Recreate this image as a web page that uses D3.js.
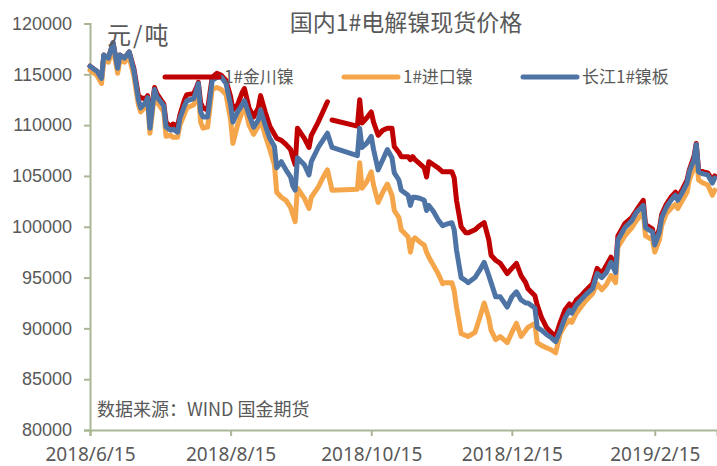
<!DOCTYPE html>
<html>
<head>
<meta charset="utf-8">
<script src="https://cdn.jsdelivr.net/npm/d3@7"></script>
<style>
  body { margin: 0; background: #fff; }
  text { font-family: "Noto Sans CJK SC", "Noto Sans", sans-serif; fill: #595959; }
</style>
</head>
<body>
<div id="chart"></div>
<script>
// dates of the price points (spot quotes, holidays are bridged)
var dates = ["2018-06-15","2018-06-18","2018-06-20","2018-06-21","2018-06-23","2018-06-25","2018-06-27","2018-06-28","2018-06-30","2018-07-02",
  "2018-07-04","2018-07-06","2018-07-07","2018-07-09","2018-07-10","2018-07-11","2018-07-13","2018-07-14","2018-07-17","2018-07-18",
  "2018-07-20","2018-07-21","2018-07-23","2018-07-24","2018-07-26","2018-07-27","2018-07-30","2018-07-31","2018-08-01","2018-08-02",
  "2018-08-03","2018-08-05","2018-08-07","2018-08-09","2018-08-11","2018-08-13","2018-08-15","2018-08-16","2018-08-18","2018-08-20",
  "2018-08-21","2018-08-23","2018-08-25","2018-08-27","2018-08-28","2018-08-30","2018-09-01","2018-09-03","2018-09-04","2018-09-06",
  "2018-09-08","2018-09-10","2018-09-11","2018-09-12","2018-09-13","2018-09-16","2018-09-18","2018-09-19","2018-09-22","2018-09-24",
  "2018-09-26","2018-09-27","2018-09-28","2018-10-09","2018-10-10","2018-10-11","2018-10-13","2018-10-15","2018-10-16","2018-10-18",
  "2018-10-20","2018-10-22","2018-10-24","2018-10-25","2018-10-27","2018-10-28","2018-10-31","2018-11-01","2018-11-02","2018-11-03",
  "2018-11-05","2018-11-07","2018-11-08","2018-11-09","2018-11-11","2018-11-13","2018-11-15","2018-11-16","2018-11-19","2018-11-20",
  "2018-11-21","2018-11-23","2018-11-25","2018-11-26","2018-11-29","2018-12-01","2018-12-03","2018-12-05","2018-12-06","2018-12-08",
  "2018-12-10","2018-12-13","2018-12-15","2018-12-17","2018-12-19","2018-12-21","2018-12-22","2018-12-25","2018-12-26","2018-12-28",
  "2018-12-30","2019-01-01","2019-01-03","2019-01-05","2019-01-07","2019-01-09","2019-01-10","2019-01-12","2019-01-14","2019-01-16",
  "2019-01-19","2019-01-21","2019-01-23","2019-01-25","2019-01-27","2019-01-29","2019-01-30","2019-02-02","2019-02-05","2019-02-07",
  "2019-02-10","2019-02-11","2019-02-14","2019-02-15","2019-02-17","2019-02-18","2019-02-20","2019-02-22","2019-02-24","2019-02-25",
  "2019-02-27","2019-03-01","2019-03-02","2019-03-04","2019-03-05","2019-03-06","2019-03-08","2019-03-10","2019-03-12","2019-03-13"];

// 1#金川镍
var jinchuan = [115800,115300,114600,116900,116600,118100,115600,116900,116600,117200,
  115600,112900,112700,112600,112900,110300,113700,113100,112100,110300,
  109800,110100,109900,111000,112500,113000,113100,113600,114200,112200,
  111700,111500,114700,115100,114900,114400,112800,111500,112000,113200,
  113600,111700,110800,111700,112900,111300,109900,109100,108700,108500,
  108100,107600,106800,106100,109700,108700,107800,109000,110300,111300,
  112300,null,110500,109900,112500,110200,110700,111300,110300,109000,
  109500,109700,109700,107900,107300,106900,106900,106600,106900,106600,
  106200,105800,104900,106400,106100,105800,105400,105400,105400,104800,
  102600,100000,99400,99400,99700,100100,100400,98700,97200,96700,
  96400,95400,95900,96400,95200,94500,93900,93200,92300,91000,
  90100,89600,89200,90600,91800,92400,92000,92800,93200,93700,
  94400,95900,95400,96200,97000,95900,99100,100300,100900,101600,
  102600,100200,99800,98400,99800,101200,102200,102900,103400,102900,
  103700,104600,105600,106900,108200,105600,105400,105300,104600,105000];

// 1#进口镍
var jinkou = [115400,114900,114100,116400,116200,117600,115100,116400,116200,116700,
  114900,112000,111300,111800,112200,109200,113100,112300,111300,108900,
  109000,108800,108800,110000,111100,111700,112000,112500,113200,110300,
  109700,109800,113500,113700,113500,113000,110500,108200,110000,111300,
  112000,110000,109100,109900,110500,109000,107600,106100,103400,102900,
  102600,101900,101200,100500,103800,102800,101800,102900,103900,104800,
  105600,104600,103600,103700,106300,103800,104400,105400,104100,102400,
  103400,104200,103100,101600,100900,99700,99000,97500,98700,98900,
  98500,98200,97500,97000,96200,95400,94400,94500,94500,93700,
  92100,89500,89300,89200,89600,91000,92500,91000,89800,88900,
  89200,88600,89600,90500,89200,89800,90100,90500,88600,88300,
  88100,87900,87600,89500,90300,90800,90600,91500,92100,92700,
  93400,94400,93800,94300,95200,94500,98000,99100,99900,100600,
  101400,99100,98700,97500,98700,100100,101300,101800,102200,101800,
  102600,103400,104600,105800,107300,104600,104300,104100,103100,103600];

// 长江1#镍板
var changjiang = [115800,115300,114600,116900,116600,118100,115600,116900,116600,117200,
  115400,112500,111700,112200,112700,109700,113500,112800,111900,109800,
  109500,109600,109300,110700,111900,112400,112600,113300,114100,111300,
  110800,110800,114400,114700,114700,114100,112000,110300,111300,112000,
  112400,111000,109800,110500,111500,110000,108700,107900,105800,106400,
  105600,104900,104000,103600,106800,106100,105100,106400,107800,108500,
  109200,108500,107800,107000,109700,107800,108200,108900,107600,105600,
  106600,107600,106800,105300,104600,103600,103100,102100,102900,102900,
  102800,102600,101600,102100,101500,100700,100100,100200,100400,99700,
  97700,95000,94700,94500,95000,95700,96500,95200,94500,93100,
  93100,92100,93100,93600,92800,92500,92500,92000,90100,89800,
  89400,89100,88700,89800,91000,91800,91500,92300,92800,93300,
  93900,95400,95000,95500,96500,95500,98700,99900,100600,101400,
  102100,99900,99500,98200,99500,100900,101900,102600,103100,102600,
  103400,104300,105400,106600,108100,105400,105200,105100,104300,104800];

var seriesNames = ["1#金川镍", "1#进口镍", "长江1#镍板"];
var seriesColors = ["#c00000", "#f5a54a", "#4e74a6"];
var xTickDates = ["2018-06-15", "2018-08-15", "2018-10-15", "2018-12-15", "2019-02-15"];
var xTickLabels = ["2018/6/15", "2018/8/15", "2018/10/15", "2018/12/15", "2019/2/15"];
var yTicks = [80000, 85000, 90000, 95000, 100000, 105000, 110000, 115000, 120000];

var W = 717, H = 466;
var margin = {top: 23.5, right: 0, bottom: 36, left: 90};
var axisColor = "#a9b796";

var parse = d3.timeParse("%Y-%m-%d");

var svg = d3.select("#chart")
  .append("svg")
    .attr("width", W)
    .attr("height", H);

var x = d3.scaleTime()
  .domain([parse("2018-06-15"), parse("2019-03-14")])
  .range([margin.left, W - margin.right]);

var y = d3.scaleLinear()
  .domain([80000, 120000])
  .range([H - margin.bottom, margin.top]);

// y axis
var yAxis = svg.append("g")
  .attr("transform", "translate(" + margin.left + ",0)")
  .call(d3.axisLeft(y).tickValues(yTicks).tickSize(6).tickPadding(12).tickFormat(d3.format("d")));

// x axis
var xAxis = svg.append("g")
  .attr("transform", "translate(0," + (H - margin.bottom) + ")")
  .call(d3.axisBottom(x)
    .tickValues(xTickDates.map(parse))
    .tickSize(6).tickPadding(11.5)
    .tickFormat(function(d, i) { return xTickLabels[i]; }));

[xAxis, yAxis].forEach(function(g) {
  g.select(".domain").attr("stroke", axisColor).attr("stroke-width", 2);
  g.selectAll(".tick line").attr("stroke", axisColor).attr("stroke-width", 2);
  g.selectAll(".tick text").attr("fill", "#595959");
});
yAxis.selectAll(".tick text")
  .style("font-family", "'Liberation Sans', sans-serif")
  .style("font-size", "18px");
xAxis.selectAll(".tick text")
  .style("font-family", "'Noto Sans', sans-serif")
  .style("font-size", "19px");

// series lines, blue drawn last so it sits on top
var table = dates.map(function(d, i) {
  return {date: parse(d), v: [jinchuan[i], jinkou[i], changjiang[i]]};
});

seriesNames.forEach(function(name, k) {
  var line = d3.line()
    .defined(function(d) { return d.v[k] != null; })
    .x(function(d) { return x(d.date); })
    .y(function(d) { return y(d.v[k]); });

  svg.append("path")
    .datum(table)
    .attr("fill", "none")
    .attr("stroke", seriesColors[k])
    .attr("stroke-width", 5)
    .attr("stroke-linejoin", "round")
    .attr("stroke-linecap", "round")
    .attr("d", line);
});

// legend
var legendX = [165, 344, 523];
var legend = svg.append("g");
seriesNames.forEach(function(name, k) {
  legend.append("line")
    .attr("x1", legendX[k]).attr("x2", legendX[k] + 54)
    .attr("y1", 77).attr("y2", 77)
    .attr("stroke", seriesColors[k])
    .attr("stroke-width", 5)
    .attr("stroke-linecap", "round");
  legend.append("text")
    .attr("x", legendX[k] + 59)
    .attr("y", 83)
    .style("font-size", "17px")
    .text(name);
});

// title, unit and source
svg.append("text")
  .attr("x", 406).attr("y", 31)
  .attr("text-anchor", "middle")
  .style("font-size", "23px")
  .text("国内1#电解镍现货价格");

svg.append("text")
  .attr("x", 107).attr("y", 44)
  .style("font-size", "24px")
  .style("letter-spacing", "2px")
  .text("元/吨");

svg.append("text")
  .attr("x", 97).attr("y", 416)
  .style("font-size", "18px")
  .attr("fill", "#404040")
  .text("数据来源：WIND 国金期货");
</script>
</body>
</html>
